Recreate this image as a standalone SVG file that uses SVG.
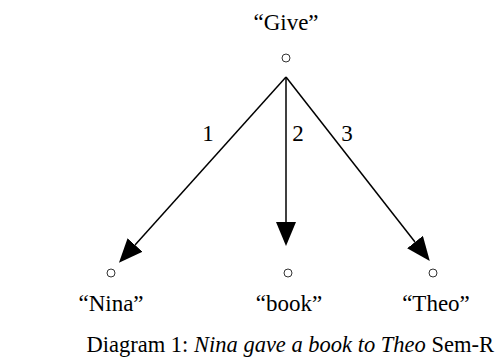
<svg xmlns="http://www.w3.org/2000/svg" width="497" height="361" viewBox="0 0 497 361">
<defs>
<style>
text{font-family:"Liberation Serif","Times New Roman",serif;font-size:23px;fill:#000}
.cap{font-size:22.5px}
.n{fill:#fff;stroke:#333;stroke-width:1}
.e{stroke:#000;stroke-width:1.5;fill:none;marker-end:url(#ah)}
</style>
<marker id="ah" markerWidth="24" markerHeight="20" refX="0" refY="10" orient="auto" markerUnits="userSpaceOnUse">
<path d="M0,0 L24,10 L0,20 Z" fill="#000"/>
</marker>
</defs>
<rect width="497" height="361" fill="#fff"/>
<g id="give"><text x="286" y="30" text-anchor="middle">“Give”</text><circle class="n" cx="286" cy="58" r="4"/></g>
<g id="nina"><circle class="n" cx="111" cy="273" r="4"/><text x="111" y="311" text-anchor="middle">“Nina”</text></g>
<g id="book"><circle class="n" cx="288" cy="273" r="4"/><text x="289" y="311" text-anchor="middle">“book”</text></g>
<g id="theo"><circle class="n" cx="433" cy="273" r="4"/><text x="436" y="311" text-anchor="middle">“Theo”</text></g>
<g id="connectors">
<line class="e" x1="286" y1="77" x2="135" y2="245"/>
<line class="e" x1="286" y1="77" x2="286" y2="222"/>
<line class="e" x1="286" y1="77" x2="415" y2="242"/>
<text x="208" y="141" text-anchor="middle">1</text>
<text x="298" y="141" text-anchor="middle">2</text>
<text x="347" y="141" text-anchor="middle">3</text>
</g>
<text class="cap" x="494" y="352" text-anchor="end">Diagram 1: <tspan font-style="italic">Nina gave a book to Theo</tspan> Sem-R</text>
</svg>
